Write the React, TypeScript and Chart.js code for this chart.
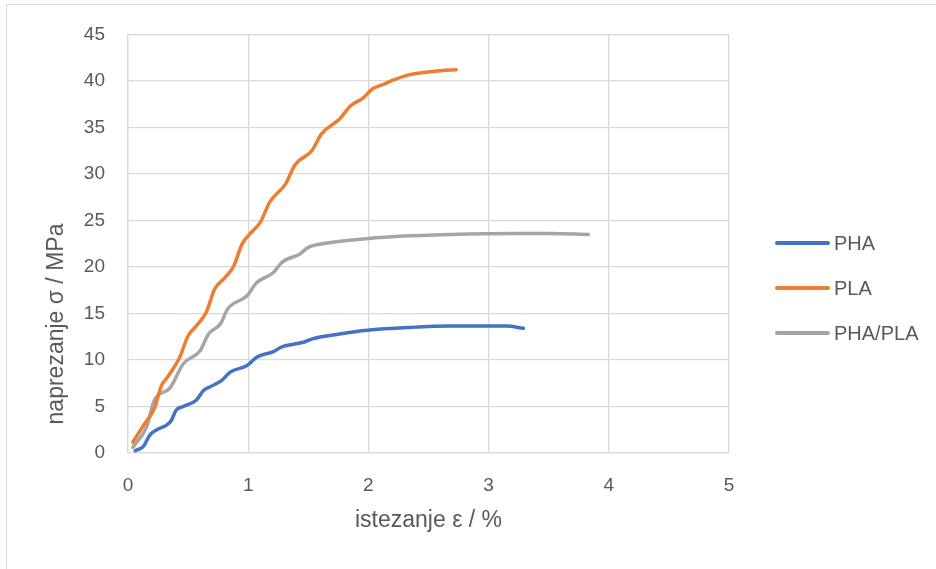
import React, { useEffect, useRef } from "react";
import { Chart, registerables } from "chart.js";

Chart.register(...registerables);

const seriesNames = ["PHA", "PLA", "PHA/PLA"];
const seriesColors = ["#4472C4", "#ED7D31", "#A5A5A5"];

const phaStrain = [0.06, 0.13, 0.18, 0.24, 0.32, 0.36, 0.40, 0.46, 0.57, 0.63, 0.68, 0.78, 0.85, 0.99, 1.07, 1.21, 1.28, 1.38, 1.46, 1.54, 1.76, 1.99, 2.35, 2.68, 3.15, 3.29];
const phaStress = [0.25, 0.75, 1.9, 2.5, 3.0, 3.5, 4.6, 5.0, 5.7, 6.75, 7.1, 7.8, 8.7, 9.4, 10.3, 10.9, 11.4, 11.7, 11.9, 12.3, 12.8, 13.2, 13.5, 13.64, 13.64, 13.4];

const plaStrain = [0.04, 0.13, 0.22, 0.28, 0.32, 0.43, 0.50, 0.57, 0.65, 0.72, 0.81, 0.88, 0.95, 1.01, 1.10, 1.18, 1.31, 1.39, 1.53, 1.61, 1.76, 1.85, 1.96, 2.03, 2.12, 2.21, 2.32, 2.45, 2.60, 2.73];
const plaStress = [1.15, 3.0, 4.8, 7.3, 8.0, 10.3, 12.6, 13.7, 15.1, 17.6, 18.9, 20.1, 22.5, 23.5, 24.8, 27.0, 28.9, 31.0, 32.5, 34.3, 35.9, 37.3, 38.2, 39.1, 39.6, 40.1, 40.6, 40.9, 41.1, 41.2];

const blendStrain = [0.04, 0.155, 0.22, 0.35, 0.46, 0.60, 0.67, 0.77, 0.83, 0.99, 1.07, 1.21, 1.28, 1.43, 1.50, 1.68, 1.87, 2.26, 2.68, 3.24, 3.51, 3.83];
const blendStress = [0.6, 2.8, 5.7, 7.0, 9.6, 11.0, 12.8, 13.9, 15.5, 16.9, 18.3, 19.4, 20.5, 21.4, 22.1, 22.6, 22.9, 23.3, 23.5, 23.6, 23.6, 23.5];

const xTitle = "istezanje ε / %";
const yTitle = "naprezanje σ / MPa";

const FONT = "'Liberation Sans', Arial, sans-serif";
const TEXT = "#595959";
const GRID = "#D9D9D9";

const toPoints = (xs: number[], ys: number[]) => xs.map((x, i) => ({ x, y: ys[i] }));

const overlay = {
  id: "overlay",
  afterDraw(chart: any) {
    const ctx = chart.ctx;
    const area = chart.chartArea;
    ctx.save();
    ctx.fillStyle = TEXT;
    ctx.font = `23px ${FONT}`;
    ctx.textAlign = "center";
    ctx.textBaseline = "middle";
    ctx.fillText(xTitle, (area.left + area.right) / 2, 521);
    ctx.translate(57, 324);
    ctx.rotate(-Math.PI / 2);
    ctx.fillText(yTitle, 0, 0);
    ctx.restore();

    ctx.save();
    const legendY = [243, 288, 333];
    chart.data.datasets.forEach((ds: any, i: number) => {
      ctx.strokeStyle = ds.borderColor;
      ctx.lineWidth = 4;
      ctx.lineCap = "round";
      ctx.beginPath();
      ctx.moveTo(777, legendY[i]);
      ctx.lineTo(828, legendY[i]);
      ctx.stroke();
      ctx.fillStyle = TEXT;
      ctx.font = `20px ${FONT}`;
      ctx.textAlign = "left";
      ctx.textBaseline = "middle";
      ctx.fillText(ds.label, 834, legendY[i] + 1);
    });
    ctx.restore();
  },
};

export default function App() {
  const ref = useRef<HTMLCanvasElement | null>(null);
  useEffect(() => {
    if (!ref.current) return;
    const data = [
      toPoints(phaStrain, phaStress),
      toPoints(plaStrain, plaStress),
      toPoints(blendStrain, blendStress),
    ];
    const chart = new Chart(ref.current, {
      type: "line",
      data: {
        datasets: data.map((d, i) => ({
          label: seriesNames[i],
          data: d,
          borderColor: seriesColors[i],
          backgroundColor: seriesColors[i],
          borderWidth: 3.5,
          pointRadius: 0,
          cubicInterpolationMode: "monotone" as const,
          borderCapStyle: "round" as const,
          borderJoinStyle: "round" as const,
          fill: false,
        })),
      },
      options: {
        animation: false,
        responsive: false,
        devicePixelRatio: 1,
        layout: { padding: { left: 0, top: 33, right: 207, bottom: 0 } },
        plugins: {
          legend: { display: false },
          tooltip: { enabled: false },
        },
        scales: {
          x: {
            type: "linear",
            min: 0,
            max: 5,
            ticks: { stepSize: 1, color: TEXT, font: { family: FONT, size: 19 }, padding: 21 },
            grid: { color: GRID, lineWidth: 1.3, drawTicks: false },
            border: { color: GRID, width: 1.3 },
            afterFit: (s: any) => { s.height = 116; },
          },
          y: {
            type: "linear",
            min: 0,
            max: 45,
            ticks: { stepSize: 5, color: TEXT, font: { family: FONT, size: 19 }, padding: 23 },
            grid: { color: GRID, lineWidth: 1.3, drawTicks: false },
            border: { color: GRID, width: 1.3 },
            afterFit: (s: any) => { s.width = 128; },
          },
        },
      },
      plugins: [overlay],
    });
    return () => chart.destroy();
  }, []);

  return (
    <div style={{ position: "fixed", left: 0, top: 0, width: 936, height: 569, overflow: "hidden", background: "#fff" }}>
      <div style={{ position: "absolute", left: 6, top: 4, width: 980, height: 620, border: "1px solid #D9D9D9", boxSizing: "border-box" }} />
      <canvas ref={ref} width={936} height={569} style={{ position: "absolute", left: 0, top: 0, width: 936, height: 569 }} />
    </div>
  );
}
